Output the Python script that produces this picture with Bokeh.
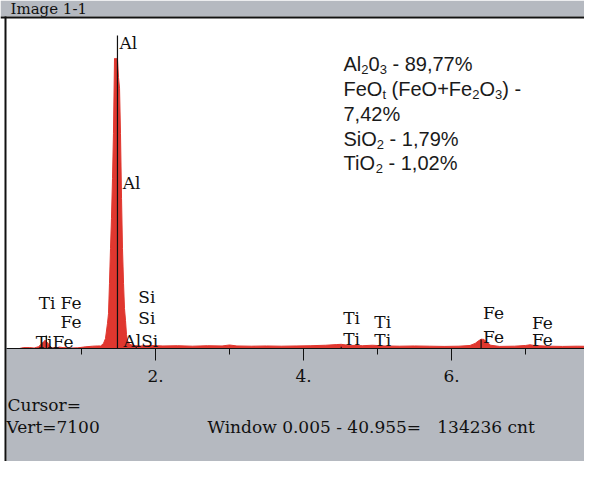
from bokeh.plotting import figure
from bokeh.models import LinearAxis, FixedTicker, Range1d, ColumnDataSource
from bokeh.core.properties import value
from bokeh.embed import file_html
from bokeh.resources import INLINE

# ---------------- data ----------------
energy_kev = [0.00, 0.16, 0.22, 0.30, 0.36, 0.42, 0.46, 0.49, 0.51, 0.54, 0.57, 0.60,
              0.65, 0.70, 0.75, 0.85, 0.95, 1.05, 1.15, 1.22, 1.26, 1.297, 1.324, 1.351,
              1.365, 1.378, 1.392, 1.405, 1.419, 1.432, 1.446, 1.459, 1.473, 1.486, 1.50,
              1.514, 1.527, 1.541, 1.554, 1.568, 1.581, 1.595, 1.608, 1.622, 1.65, 1.70,
              1.80, 1.95, 2.10, 2.30, 2.50, 2.70, 2.90, 3.00, 3.10, 3.30, 3.50, 3.70,
              3.90, 4.10, 4.30, 4.45, 4.51, 4.60, 4.80, 4.93, 5.10, 5.30, 5.50, 5.70,
              5.90, 6.10, 6.25, 6.32, 6.37, 6.40, 6.44, 6.48, 6.53, 6.65, 6.85, 7.00,
              7.06, 7.12, 7.30, 7.50, 7.70, 7.90, 8.05]
counts = [0, 0, 20, 20, 10, 40, 100, 150, 180, 130, 60, 15,
          10, 30, 20, 10, 15, 35, 50, 55, 55, 108, 215, 540,
          750, 1400, 2150, 2800, 3660, 4630, 6240, 6240, 6240, 6240, 5830,
          5600, 4630, 3230, 2150, 1400, 860, 600, 300, 170, 90, 65,
          55, 65, 55, 60, 50, 60, 55, 75, 55, 50, 55, 50,
          55, 60, 70, 85, 90, 70, 60, 70, 55, 50, 55, 50,
          45, 50, 65, 110, 170, 200, 195, 130, 70, 45, 50, 65,
          80, 65, 50, 45, 50, 45, 45]

marker_energy = [1.486, 0.525, 6.40, 4.51, 1.74]
marker_top = [6736, 280, 194, 40, 40]

label_text = ["Al", "Al", "Ti", "Fe", "Fe", "TiFe", "Si", "Si", "AlSi",
              "Ti", "Ti", "Ti", "Ti", "Fe", "Fe", "Fe", "Fe"]
label_energy = [1.486, 1.530, 0.395, 0.690, 0.690, 0.355, 1.74, 1.74, 1.54,
                4.51, 4.51, 4.93, 4.93, 6.40, 6.40, 7.06, 7.06]
label_count = [6454, 3442, 860, 860, 450, 20, 970, 520, 40,
               520, 65, 450, 45, 645, 110, 430, 45]

tick_values = [2, 4, 6, 8]
minor_tick_values = [1, 3, 5, 7]
tick_labels = ["2.", "4.", "6.", "8."]

NB = "\u00a0"
title_text = "Image 1-1"
cursor_text = "Cursor="
vert_text = "Vert=7100"
window_text = "Window 0.005 - 40.955=   134236 cnt".replace(" ", NB)

composition = [
    [("Al", 0), ("2", 1), ("0", 0), ("3", 1), (" - 89,77%", 0)],
    [("FeO", 0), ("t", 1), (" (FeO+Fe", 0), ("2", 1), ("O", 0), ("3", 1), (") -", 0)],
    [("7,42%", 0)],
    [("SiO", 0), ("2", 1), (" - 1,79%", 0)],
    [("TiO", 0), ("2", 1), (" - 1,02%", 0)],
]

# ---------------- layout helpers ----------------
W, H = 584, 461
X0, PX_PER_KEV = 7.0, 74.0
BASE, CNT_PER_PX = 348.0, 7100.0 / 330.0


def xr(px):
    return (px - X0) / PX_PER_KEV


def yr(py):
    return (BASE - py) * CNT_PER_PX


GRAY = "#b5b9c0"
RED = "#e0372f"
INK = "#111111"
SERIF = "DejaVu Serif"
FS = "17px"
LIFT = 6          # px: compensates text box descent
LIFT_SANS = 7

p = figure(width=W, height=H, x_range=Range1d(xr(0), xr(W)),
           y_range=Range1d(yr(H), yr(0)), x_axis_type=None, y_axis_type=None,
           toolbar_location=None, output_backend="svg", min_border=0,
           title=None, outline_line_color=None,
           background_fill_color="white", border_fill_color="white")

# window chrome
p.quad(left=xr(0), right=xr(W), bottom=yr(16), top=yr(0), fill_color=GRAY, line_color=None)
p.quad(left=xr(0), right=xr(W), bottom=yr(18), top=yr(16), fill_color=INK, line_color=None)
p.quad(left=xr(6), right=xr(W), bottom=yr(H), top=yr(348.5), fill_color=GRAY, line_color=None)
p.quad(left=xr(4), right=xr(6), bottom=yr(H), top=yr(16), fill_color=INK, line_color=None)

# spectrum
src = ColumnDataSource(dict(e=energy_kev, c=counts))
p.varea(x="e", y1=0, y2="c", source=src, fill_color=RED)
p.line(x="e", y="c", source=src, line_color=RED, line_width=1)

# KLM markers
p.segment(x0=marker_energy, y0=[0] * len(marker_energy), x1=marker_energy, y1=marker_top,
          line_color=INK, line_width=1.2)
p.text(x=label_energy, y=label_count, text=label_text, x_offset=2, y_offset=-LIFT,
       text_baseline="alphabetic", text_align="left", text_font=value(SERIF),
       text_font_size=FS, text_color=INK)

# axis
ax = LinearAxis(fixed_location=0,
                ticker=FixedTicker(ticks=tick_values, minor_ticks=minor_tick_values),
                bounds=(xr(6), xr(W)))
ax.major_label_overrides = {t: l for t, l in zip(tick_values, tick_labels)}
ax.axis_line_color = INK
ax.axis_line_width = 1.2
ax.major_tick_in = 0
ax.major_tick_out = 12
ax.minor_tick_in = 0
ax.minor_tick_out = 6
ax.major_tick_line_color = INK
ax.minor_tick_line_color = INK
ax.major_label_standoff = 9
ax.major_label_text_font = SERIF
ax.major_label_text_font_size = FS
ax.major_label_text_color = INK
p.add_layout(ax, "below")

# status texts
p.text(x=[xr(10)], y=[yr(8.5)], text=[title_text], text_baseline="middle",
       text_font=value(SERIF), text_font_size="15px", text_color=INK)
p.text(x=[xr(7), xr(6)], y=[yr(410 - LIFT), yr(432 - LIFT)], text=[cursor_text, vert_text],
       text_baseline="alphabetic", text_font=value(SERIF), text_font_size=FS,
       text_color=INK)
p.text(x=[xr(207)], y=[yr(432 - LIFT)], text=[window_text], text_baseline="alphabetic",
       text_font=value(SERIF), text_font_size=FS, text_color=INK)

# composition block with subscripts
ARIAL = {' ': 278, '(': 333, ')': 333, '+': 584, ',': 278, '-': 333, '%': 889, '.': 278,
         'A': 667, 'F': 611, 'O': 778, 'S': 667, 'T': 611, 'e': 556, 'i': 222, 'l': 222,
         't': 278}
MAIN, SUB = 20, 13
baselines = [72, 97, 122, 147, 171]
cx, cy, ct, cxo, cyo, cfs = [], [], [], [], [], []
for line, bl in zip(composition, baselines):
    off = 0.0
    for txt, sub in line:
        size = SUB if sub else MAIN
        cx.append(xr(343))
        cy.append(yr(bl - LIFT_SANS - 2))
        ct.append(txt.replace(" ", NB))
        cxo.append(off)
        cyo.append(6 if sub else 0)
        cfs.append(f"{size}px")
        off += sum(ARIAL.get(ch, 556) for ch in txt) * size / 1000.0
csrc = ColumnDataSource(dict(x=cx, y=cy, t=ct, xo=cxo, yo=cyo, fs=cfs))
p.text(x="x", y="y", text="t", x_offset="xo", y_offset="yo", text_font_size="fs",
       source=csrc, text_baseline="alphabetic", text_font=value("Liberation Sans"),
       text_color="#1a1a1a")

open("out.html", "w").write(file_html(p, INLINE))
